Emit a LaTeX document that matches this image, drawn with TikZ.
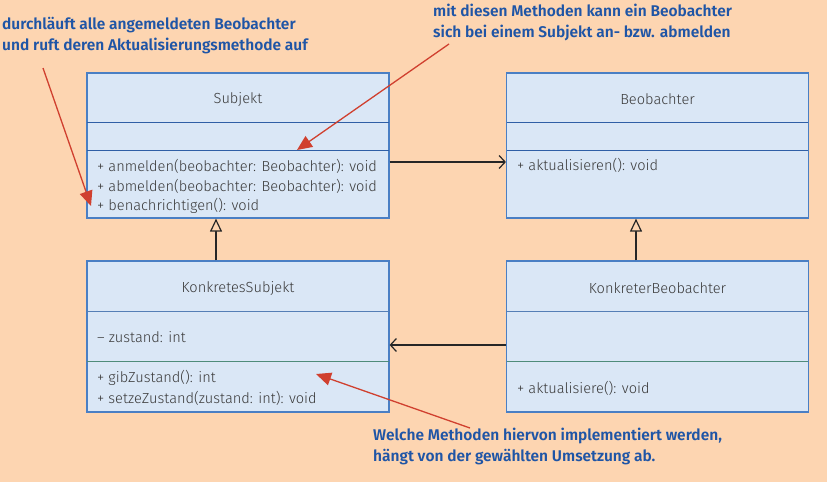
\documentclass[tikz,border=0pt]{standalone}
\usepackage{fontspec}
\setmainfont{Fira Sans}
\newfontfamily\umlfont{Fira Sans Light}
\newfontfamily\notefont{Fira Sans SemiBold}
\usetikzlibrary{arrows.meta}
\definecolor{bg}{HTML}{FDD5B1}
\definecolor{boxfill}{HTML}{DAE7F6}
\definecolor{boxline}{HTML}{4A7FC4}
\definecolor{divline}{HTML}{2F5FA6}
\definecolor{divgreen}{HTML}{4F8C7A}
\definecolor{umltext}{HTML}{3A3A3A}
\definecolor{notetext}{HTML}{1F55A6}
\definecolor{notered}{HTML}{D0402F}
\tikzset{
  classbox/.style={draw=boxline, fill=boxfill, line width=1.2pt, minimum width=302pt, minimum height=145pt, inner sep=0pt},
  classbox2/.style={classbox, minimum height=151pt},
  title/.style={font=\umlfont\fontsize{14.6}{17}\selectfont, text=umltext, inner sep=0pt},
  member/.style={font=\umlfont\fontsize{14.6}{17}\selectfont, text=umltext, anchor=west, inner sep=0pt},
  note/.style={font=\notefont\fontsize{15.5}{20.5}\selectfont, text=notetext, align=left, anchor=base west, inner sep=0pt},
  divider/.style={draw=divline, line width=1pt},
  dividerb/.style={draw=boxline!80!gray, line width=1pt},
  dividerg/.style={draw=divgreen, line width=1pt},
  assoc/.style={draw=black!85, line width=1.2pt, -{Straight Barb[length=6pt, width=13pt, line width=1.2pt]}},
  inherit/.style={draw=black!85, line width=1.2pt, -{Triangle[open, length=13pt, width=12pt, fill=bg, line width=1.2pt]}},
  redarrow/.style={draw=notered, line width=1.3pt, -{Triangle[length=15pt, width=13pt]}}
}
\begin{document}
\begin{tikzpicture}[x=1pt, y=-1pt]
\fill[bg] (0,0) rectangle (827,482);
\useasboundingbox (0,0) rectangle (827,482);

% class boxes
\node[classbox] (subj) at (238,145.5) {};
\node[classbox] (beob) at (657.5,145.5) {};
\node[classbox2] (ksubj) at (238,336.5) {};
\node[classbox2] (kbeob) at (657.5,336.5) {};

% dividers
\draw[divider] (87,122) -- (389,122);
\draw[divider] (87,150) -- (389,150);
\draw[divider] (507,122) -- (808,122);
\draw[divider] (507,150) -- (808,150);
\draw[dividerb] (87,311) -- (389,311);
\draw[dividerg] (87,361) -- (389,361);
\draw[dividerb] (507,311) -- (808,311);
\draw[dividerg] (507,361) -- (808,361);

% titles
\node[title] (t1) at (238,99) {Subjekt};
\node[title] (t2) at (657.5,99) {Beobachter};
\node[title] (t3) at (238,288) {KonkretesSubjekt};
\node[title] (t4) at (657.5,288) {KonkreterBeobachter};

% members
\node[member] (m1) at (97,166) {+ anmelden(beobachter: Beobachter): void};
\node[member] (m2) at (97,186) {+ abmelden(beobachter: Beobachter): void};
\node[member] (m3) at (97,206) {+ benachrichtigen(): void};
\node[member] (m4) at (517,165) {+ aktualisieren(): void};
\node[member] (m5) at (97,337) {– zustand: int};
\node[member] (m6) at (97,378) {+ gibZustand(): int};
\node[member] (m7) at (97,398) {+ setzeZustand(zustand: int): void};
\node[member] (m8) at (517,388) {+ aktualisiere(): void};

% connectors
\draw[assoc] ([yshift=-16.5pt]subj.east) -- ([yshift=-16.5pt]beob.west);
\draw[assoc] ([yshift=-8.5pt]kbeob.west) -- ([yshift=-8.5pt]ksubj.east);
\draw[inherit] ([xshift=-22pt]ksubj.north) -- ([xshift=-22pt]subj.south);
\draw[inherit] ([xshift=-21.5pt]kbeob.north) -- ([xshift=-21.5pt]beob.south);

% notes
\node[note] (n1) at (2,50) {durchläuft alle angemeldeten Beobachter\\und ruft deren Aktualisierungsmethode auf};
\node[note] (n2) at (433,37) {mit diesen Methoden kann ein Beobachter\\sich bei einem Subjekt an- bzw. abmelden};
\node[note] (n3) at (373,461) {Welche Methoden hiervon implementiert werden,\\hängt von der gewählten Umsetzung ab.};

\coordinate (s1) at (43,68);
\coordinate (e1) at (91,206);
\coordinate (s2) at (449,44);
\coordinate (e2) at (297,150);
\coordinate (s3) at (470,428);
\coordinate (e3) at (316,374);
\draw[redarrow] (s1) -- (e1);
\draw[redarrow] (s2) -- (e2);
\draw[redarrow] (s3) -- (e3);
\end{tikzpicture}
\end{document}
